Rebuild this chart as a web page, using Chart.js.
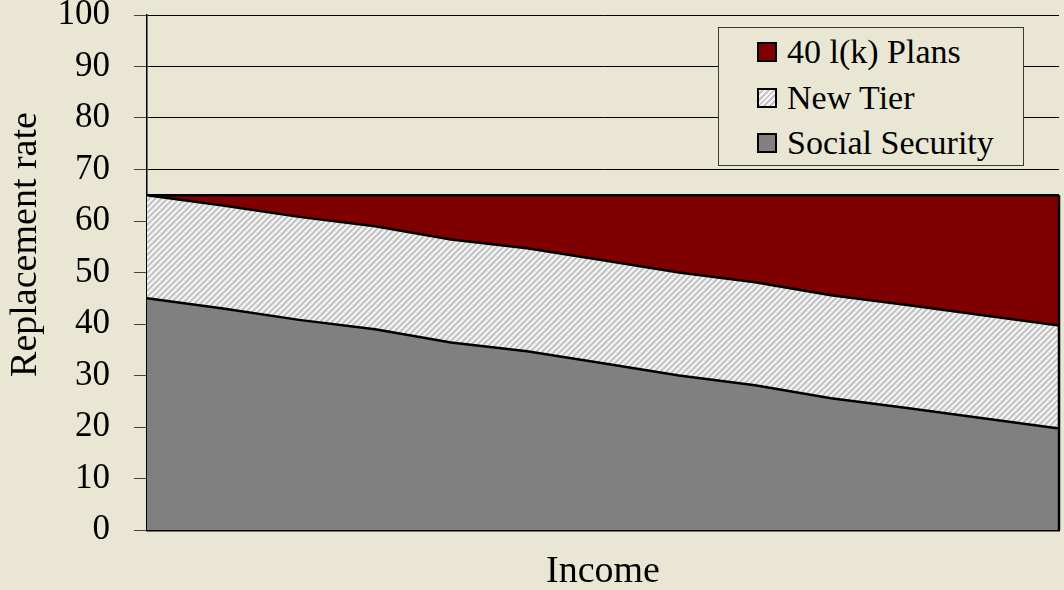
<!DOCTYPE html>
<html>
<head>
<meta charset="utf-8">
<script src="https://cdn.jsdelivr.net/npm/chart.js@4/dist/chart.umd.min.js"></script>
<style>
  html, body { margin: 0; padding: 0; background: #E9E7D4; }
  #wrap { position: relative; width: 1064px; height: 590px; }
  #legend {
    position: absolute; left: 718px; top: 27px; width: 306px; height: 139px;
    border: 1px solid #3a3a3a; background: #E9E7D4; box-sizing: border-box;
    font-family: "Liberation Serif", "Times New Roman", serif; font-size: 34px; color: #000;
  }
  .item { position: absolute; left: 38px; height: 40px; display: flex; align-items: center; white-space: nowrap; }
  .sw { width: 16px; height: 16px; border: 2px solid #000; margin-right: 10px; flex: none; }
</style>
</head>
<body>
<div id="wrap">
  <canvas id="c" width="1064" height="590"></canvas>
  <div id="legend"></div>
</div>
<script>
// ---- data ----
const incomeLevels = ['1','2','3','4','5','6','7','8','9','10','11','12','13'];
const socialSecurity = [45.0, 43.0, 40.8, 39.0, 36.4, 34.7, 32.4, 30.0, 28.1, 25.6, 23.7, 21.7, 19.7];
const newTier = [20, 20, 20, 20, 20, 20, 20, 20, 20, 20, 20, 20, 20];
const plans401k = [0.0, 2.0, 4.2, 6.0, 8.6, 10.3, 12.6, 15.0, 16.9, 19.4, 21.3, 23.3, 25.3];
const seriesNames = ['Social Security', 'New Tier', '40 l(k) Plans'];
const yTicks = [0, 10, 20, 30, 40, 50, 60, 70, 80, 90, 100];

const FONT = '"Liberation Serif", "Times New Roman", serif';
const canvas = document.getElementById('c');
const ctx = canvas.getContext('2d');

function hatchPattern() {
  const c = document.createElement('canvas');
  c.width = 6; c.height = 6;
  const g = c.getContext('2d');
  g.fillStyle = '#F6F6F6';
  g.fillRect(0, 0, 6, 6);
  g.strokeStyle = '#C4C4C4';
  g.lineWidth = 2.2;
  g.beginPath();
  g.moveTo(0, 6); g.lineTo(6, 0);
  g.moveTo(-3, 3); g.lineTo(3, -3);
  g.moveTo(3, 9); g.lineTo(9, 3);
  g.stroke();
  return ctx.createPattern(c, 'repeat');
}

const colors = ['#808080', hatchPattern(), '#7F0000'];
const swatchCss = ['#808080', 'repeating-linear-gradient(135deg, #F6F6F6 0 2px, #C4C4C4 2px 4px)', '#7F0000'];
const seriesData = [socialSecurity, newTier, plans401k];

const datasets = seriesData.map((d, i) => ({
  label: seriesNames[i],
  data: d,
  backgroundColor: colors[i],
  borderColor: '#000',
  borderWidth: 2.5,
  pointRadius: 0,
  tension: 0,
  fill: i === 0 ? 'origin' : '-1'
}));

const edgePlugin = {
  id: 'edge',
  afterDatasetsDraw(chart) {
    const meta = chart.getDatasetMeta(chart.data.datasets.length - 1);
    const last = meta.data[meta.data.length - 1];
    const y0 = chart.scales.y.getPixelForValue(0);
    const c = chart.ctx;
    c.save();
    c.strokeStyle = '#000';
    c.lineWidth = 2.5;
    c.beginPath();
    c.moveTo(last.x, last.y);
    c.lineTo(last.x, y0);
    c.stroke();
    c.restore();
  }
};

new Chart(ctx, {
  type: 'line',
  data: { labels: incomeLevels, datasets },
  plugins: [edgePlugin],
  options: {
    responsive: false,
    devicePixelRatio: 1,
    animation: false,
    layout: { padding: { top: 15, right: 5, left: 0, bottom: 0 } },
    plugins: { legend: { display: false }, tooltip: { enabled: false } },
    scales: {
      x: {
        offset: false,
        grid: { display: false },
        border: { display: true, color: '#000', width: 2.5 },
        ticks: { display: false },
        title: { display: true, text: 'Income', color: '#000', font: { family: FONT, size: 38, lineHeight: 0.95 }, padding: { top: 0, bottom: 0 } },
        afterFit(s) { s.height = 60; s.paddingLeft = 0; s.paddingRight = 0; }
      },
      y: {
        stacked: true,
        min: 0, max: 100,
        afterBuildTicks(s) { s.ticks = yTicks.map(v => ({ value: v })); },
        grid: { color: '#000', lineWidth: 1, tickLength: 13, tickColor: '#444' },
        border: { display: true, color: '#000', width: 1.5 },
        ticks: { color: '#000', font: { family: FONT, size: 35 }, padding: 24 },
        title: { display: true, text: 'Replacement rate', color: '#000', font: { family: FONT, size: 38, lineHeight: 1.2 }, padding: { top: 3, bottom: 0 } },
        afterFit(s) {
          s.width = 147; s.paddingTop = 0; s.paddingBottom = 0;
          if (!s._titleShift) {
            const orig = s.drawTitle.bind(s);
            s.drawTitle = function () {
              const c = this.ctx;
              c.save();
              c.translate(0, -28);
              orig();
              c.restore();
            };
            s._titleShift = true;
          }
        }
      }
    }
  }
});

// legend (reverse order, as in the reference)
const leg = document.getElementById('legend');
[2, 1, 0].forEach((i, row) => {
  const it = document.createElement('div');
  it.className = 'item';
  it.style.top = (4 + row * 45.5) + 'px';
  const sw = document.createElement('span');
  sw.className = 'sw';
  sw.style.background = swatchCss[i];
  const tx = document.createElement('span');
  tx.textContent = seriesNames[i];
  it.appendChild(sw); it.appendChild(tx);
  leg.appendChild(it);
});
</script>
</body>
</html>
